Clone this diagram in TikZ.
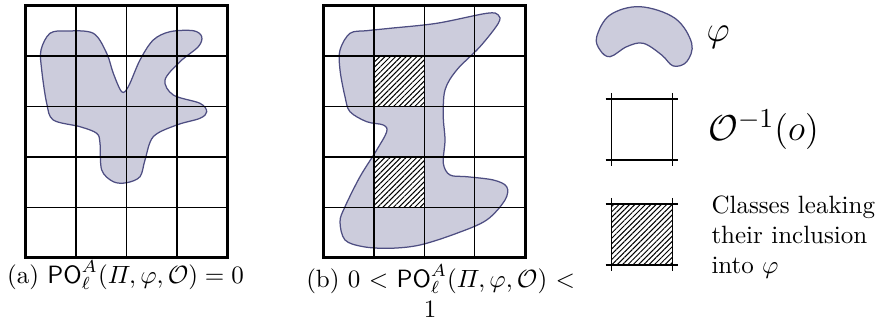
\documentclass[tikz,border=0pt]{standalone}
\usepackage{amsmath}
\usetikzlibrary{patterns.meta}
\definecolor{blobfill}{RGB}{204,204,220}
\definecolor{blobline}{RGB}{78,78,130}

\begin{document}
\begin{tikzpicture}[x=0.4pt,y=-0.4pt,
  region/.style={fill=blobfill,draw=blobline,line width=0.5pt},
  cellline/.style={draw=black,line width=0.5pt},
  frame/.style={draw=black,line width=1.2pt},
  leak/.style={pattern={Lines[angle=45,distance=1.5pt,line width=0.4pt]}},
  legendtext/.style={anchor=west,inner sep=0pt,align=left},
]
\useasboundingbox (0,0) rectangle (877,325);

% (a) the property does not intersect any leaking class
\draw[region] plot[smooth cycle,tension=0.55] coordinates {
  (41,50) (50,33.3) (66.7,31) (93.3,33.3) (106.7,53.3) (113.3,73.3)
  (121.7,91.7) (128.3,86.7) (140,60) (153.3,40) (170,31.7) (193.3,30.7)
  (201.7,36.7) (198.3,46.7) (180,61.7) (165,80) (173.3,95) (200,103.3)
  (206.7,111.7) (200,118.3) (176.7,125) (153.3,136.7) (145,160) (140,176.7)
  (126.7,182.7) (113.3,181.7) (101.7,170) (100,143.3) (96.7,133.3)
  (80,126.7) (53.3,120) (46.7,103.3) (41.7,70)};
\foreach \i in {1,2,3}
  \draw[cellline] (25.7+50.4*\i,5.7) -- (25.7+50.4*\i,257.7);
\foreach \j in {1,...,4}
  \draw[cellline] (25.7,5.7+50.4*\j) -- (227.3,5.7+50.4*\j);
\draw[frame] (25.7,5.7) rectangle (227.3,257.7);
\node (capa) at (125.5,275) {(a) $\mathsf{PO}^A_\ell(\varPi,\varphi,\mathcal{O})=0$};

% (b) some classes leak their inclusion
\draw[region] plot[smooth cycle,tension=0.55] coordinates {
  (340,50) (350,33.3) (366.7,30.7) (390,28.3) (436.7,23.3) (486.7,13.3)
  (498.3,15) (498.3,23.3) (480,46.7) (456.7,70) (445,90) (443.3,116.7)
  (445,140) (443.3,163.3) (450,175) (466.7,176.7) (493.3,180) (506.7,186.7)
  (505,200) (486.7,220) (456.7,233.3) (420,245) (390,248.3) (363.3,246.7)
  (345,240) (340,221.7) (345,206.7) (360,176.7) (376.7,150) (386.7,131.7)
  (383.3,125) (366.7,121.7) (350,111.7) (345,96.7) (340,70)};
\foreach \r in {1,3} {
  \fill[white] (373.9,5.7+50.4*\r) rectangle (424.3,56.1+50.4*\r);
  \fill[leak] (373.9,5.7+50.4*\r) rectangle (424.3,56.1+50.4*\r);
}
\foreach \i in {1,2,3}
  \draw[cellline] (323.5+50.4*\i,5.7) -- (323.5+50.4*\i,257.7);
\foreach \j in {1,...,4}
  \draw[cellline] (323.5,5.7+50.4*\j) -- (525.1,5.7+50.4*\j);
\draw[frame] (323.5,5.7) rectangle (525.1,257.7);
\node[text width=99pt,align=center,inner sep=0pt,anchor=north] (capb) at (430,264)
  {\makebox[\linewidth][s]{(b) $0$ $<$ $\mathsf{PO}^A_\ell(\varPi,\varphi,\mathcal{O})$ $<$}\\ $1$};

% legend
\draw[region] plot[smooth cycle,tension=0.6] coordinates {
  (596.7,36.7) (610,15) (640,6.7) (675,18.3) (691.7,43.3) (686.7,61.7)
  (673.3,66) (661.7,55) (643.3,43.3) (626.7,46.7) (610,56.7) (600,50)};
\node[legendtext] (lphi) at (706,37) {\Large$\varphi$};

\draw[cellline] (605.7,99) -- (678.3,99) (605.7,160) -- (678.3,160)
  (611.7,93) -- (611.7,166) (672.3,93) -- (672.3,166);
\node[legendtext] (lclass) at (708,130) {\fontsize{15}{18}\selectfont$\mathcal{O}^{-1}(o)$};

\fill[leak] (611.7,204) rectangle (672.3,265);
\draw[cellline] (605.7,204) -- (678.3,204) (605.7,265) -- (678.3,265)
  (611.7,198) -- (611.7,271) (672.3,198) -- (672.3,271);
\node[legendtext] (lleak) at (711,237) {Classes leaking\\their inclusion\\into $\varphi$};
\end{tikzpicture}
\end{document}
